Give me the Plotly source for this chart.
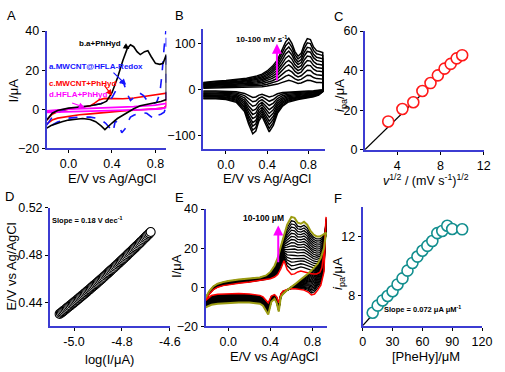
import plotly.graph_objects as go

W, H = 505, 372
BLUE = "#3c3cd2"
FONT = "Liberation Sans, Arial, sans-serif"


def fx(X):
    return X / W


def fy(Y):
    return 1 - Y / H


# ---------------- Panel A: CVs of the four electrodes ----------------
a_blk_up_x = [-0.2, -0.15, -0.1, 0.0, 0.1, 0.2, 0.3, 0.35, 0.4, 0.45, 0.5, 0.54, 0.57, 0.6, 0.63, 0.66, 0.7, 0.73, 0.76, 0.8, 0.84, 0.87, 0.9]
a_blk_up_y = [-5.5, -2, -0.6, 0.6, 1.2, 1.8, 2.8, 4.2, 8.5, 16, 25, 31, 33, 32, 29.5, 28, 29.5, 30, 27, 23.5, 23, 23.5, 28]
a_blk_dn_x = [0.9, 0.85, 0.79, 0.72, 0.66, 0.6, 0.55, 0.5, 0.45, 0.4, 0.37, 0.335, 0.3, 0.25, 0.2, 0.13, 0.05, 0.0, -0.06, -0.11, -0.16, -0.2]
a_blk_dn_y = [5, 4, 3.4, 2.5, 1.8, 0.3, -1.5, -3, -4.7, -7, -8.5, -10.4, -8.5, -6.3, -5.2, -4.7, -5.2, -5.5, -6.3, -7.2, -8.3, -9.6]

a_blu_up_x = [-0.2, -0.15, -0.1, -0.05, 0.0, 0.1, 0.2, 0.3, 0.35, 0.4, 0.44, 0.48, 0.51, 0.54, 0.57, 0.61, 0.65, 0.69, 0.73, 0.77, 0.81, 0.84, 0.86, 0.88, 0.9]
a_blu_up_y = [-8, -4, -1.8, -0.5, 0.3, 1, 1.8, 3, 4, 6, 10, 14, 13, 8, 4.5, 6.5, 8.5, 7, 4, 2.8, 3.5, 8, 18, 32, 42]
a_blu_dn_x = [0.9, 0.88, 0.85, 0.82, 0.79, 0.76, 0.72, 0.68, 0.64, 0.6, 0.57, 0.55, 0.52, 0.49, 0.46, 0.43, 0.41, 0.38, 0.34, 0.3, 0.25, 0.2, 0.1, 0.0, -0.05, -0.1, -0.15, -0.2]
a_blu_dn_y = [2, -1.5, -2.5, -3, -5, -3.5, -2, -1.8, -2.2, -3, -4, -6, -10, -12, -7, -6, -11.5, -9.5, -7, -5.5, -4.5, -4, -4, -4.5, -5.5, -6.5, -8, -9.5]

a_red_up_x = [-0.2, -0.15, -0.1, -0.05, 0.0, 0.1, 0.2, 0.24, 0.28, 0.33, 0.4, 0.5, 0.6, 0.7, 0.8, 0.86, 0.9]
a_red_up_y = [-5.5, -2.5, -1.2, -0.5, 0, 0.8, 1.8, 3.2, 4.8, 5.6, 5.5, 5.4, 5.8, 6.6, 7.5, 8.2, 8.3]
a_red_dn_x = [0.9, 0.88, 0.8, 0.7, 0.6, 0.5, 0.4, 0.3, 0.2, 0.1, 0.0, -0.1, -0.15, -0.2]
a_red_dn_y = [2, 0.8, 0.3, -0.2, -0.5, -0.8, -1.2, -1.8, -2.3, -2.8, -3.5, -4.5, -5.5, -7.5]

a_mag_up_x = [-0.2, -0.1, 0.0, 0.2, 0.4, 0.6, 0.8, 0.9]
a_mag_up_y = [-0.8, -0.2, 0.1, 0.5, 0.9, 1.4, 2.2, 3.0]
a_mag_dn_x = [0.9, 0.85, 0.7, 0.5, 0.3, 0.1, -0.1, -0.2]
a_mag_dn_y = [1.0, 0.3, -0.1, -0.4, -0.7, -1.0, -1.3, -1.6]

a_labels = ["b.a+PhHyd", "a.MWCNT@HFLA-Redox", "c.MWCNT+PhHyd", "d.HFLA+PhHyd"]

# ---------------- Panel B: scan-rate study (largest scan shape + peak heights) ----------------
b_up_x = [-0.22, -0.15, -0.1, 0.0, 0.1, 0.2, 0.3, 0.35, 0.4, 0.45, 0.5, 0.54, 0.58, 0.61, 0.64, 0.67, 0.7, 0.73, 0.76, 0.79, 0.82, 0.85, 0.88, 0.91, 0.94]
b_up_y = [15, 17, 18, 19.5, 21, 24, 29, 33, 40, 50, 64, 82, 103, 111, 100, 82, 72, 78, 97, 110, 108, 92, 84, 82, 80]
b_dn_x = [0.94, 0.9, 0.85, 0.8, 0.7, 0.6, 0.55, 0.5, 0.46, 0.42, 0.38, 0.35, 0.32, 0.29, 0.26, 0.22, 0.18, 0.1, 0.0, -0.1, -0.22]
b_dn_y = [-5, -12, -16, -18, -22, -28, -36, -52, -78, -92, -72, -58, -68, -90, -96, -75, -48, -28, -22, -20, -20]
b_peaks = [20, 31, 42, 53, 63, 73, 83, 92, 102, 111]

# ---------------- Panel C: Randles-Sevcik ----------------
c_x = [3.16, 4.47, 5.48, 6.32, 7.07, 7.75, 8.37, 8.94, 9.49, 10.0]
c_y = [14.3, 20.6, 24.0, 29.7, 33.7, 37.6, 41.0, 43.4, 46.2, 47.8]
c_fit_x = [1.0, 10.0]
c_fit_y = [0.0, 48.0]

# ---------------- Panel D: Tafel ----------------
d_x = [-5.060, -5.055, -5.050, -5.045, -5.040, -5.035, -5.030, -5.025, -5.020, -5.015,
       -5.010, -5.005, -5.000, -4.995, -4.990, -4.985, -4.980, -4.975, -4.970, -4.965,
       -4.960, -4.955, -4.950, -4.945, -4.940, -4.935, -4.930, -4.925, -4.920, -4.915,
       -4.910, -4.905, -4.900, -4.895, -4.890, -4.885, -4.880, -4.875, -4.870, -4.865,
       -4.860, -4.855, -4.850, -4.845, -4.840, -4.835, -4.830, -4.825, -4.820, -4.815,
       -4.810, -4.805, -4.800, -4.795, -4.790, -4.785, -4.780, -4.775, -4.770, -4.765,
       -4.760, -4.755, -4.750, -4.745, -4.740, -4.735, -4.730, -4.725, -4.720, -4.715,
       -4.710, -4.705, -4.700, -4.695, -4.690, -4.685, -4.680]
d_y = [0.4300, 0.4308, 0.4316, 0.4324, 0.4332, 0.4340, 0.4349, 0.4357, 0.4365, 0.4373,
       0.4382, 0.4390, 0.4398, 0.4406, 0.4415, 0.4423, 0.4432, 0.4440, 0.4449, 0.4457,
       0.4466, 0.4474, 0.4483, 0.4492, 0.4501, 0.4509, 0.4518, 0.4527, 0.4536, 0.4544,
       0.4553, 0.4562, 0.4571, 0.4580, 0.4589, 0.4598, 0.4607, 0.4616, 0.4626, 0.4635,
       0.4644, 0.4653, 0.4663, 0.4672, 0.4681, 0.4690, 0.4700, 0.4709, 0.4719, 0.4728,
       0.4738, 0.4747, 0.4757, 0.4766, 0.4776, 0.4785, 0.4795, 0.4805, 0.4815, 0.4824,
       0.4834, 0.4844, 0.4854, 0.4863, 0.4873, 0.4883, 0.4893, 0.4903, 0.4913, 0.4923,
       0.4934, 0.4944, 0.4954, 0.4964, 0.4974, 0.4984, 0.4995]

# ---------------- Panel E: concentration study ----------------
e_up_x = [-0.22, -0.18, -0.14, -0.1, -0.05, 0.0, 0.1, 0.2, 0.3, 0.36, 0.4, 0.44, 0.47, 0.5, 0.53, 0.56, 0.6, 0.63, 0.66, 0.69, 0.72, 0.75, 0.78, 0.81, 0.84, 0.87, 0.89, 0.91, 0.93]
e_red_up_y = [-7, -3.5, -1.2, 0, 0.8, 1.3, 2.0, 2.6, 3.3, 3.8, 4.3, 5.2, 6.5, 9.5, 13.5, 9, 6.5, 6.8, 7.8, 8.3, 7.8, 7.2, 7.0, 6.8, 6.8, 7.5, 10, 18, 36]
e_olv_up_y = [-6, -2, 0.5, 1.8, 2.6, 3.2, 3.9, 4.4, 5.0, 6.0, 7.8, 11, 15, 21, 27, 32, 36, 35.5, 33, 32.5, 33.5, 32, 29, 27, 26, 26, 26.5, 27.5, 28]
e_dn_x = [0.93, 0.91, 0.88, 0.85, 0.82, 0.79, 0.76, 0.72, 0.68, 0.64, 0.6, 0.56, 0.52, 0.5, 0.48, 0.46, 0.44, 0.41, 0.38, 0.36, 0.33, 0.3, 0.25, 0.2, 0.1, 0.0, -0.1, -0.16, -0.22]
e_red_dn_y = [36, 8, 1, -1.5, -3.5, -4, -2.5, -1.5, -1, -0.8, -0.8, -1.2, -2, -3.5, -8, -5, -3.8, -4.5, -8, -7, -5, -4.2, -3.8, -3.5, -3.3, -3.3, -3.6, -4.3, -7]
e_olv_dn_y = [28, 20, 15, 12, 10, 8.5, 7, 5, 3.5, 1.8, 0.3, -1.5, -3.5, -5, -12.5, -8, -6, -7.5, -14, -12, -9.5, -8.5, -8, -7.8, -7.8, -8, -8.5, -9, -10.5]
e_peaks = [6.5, 9.0, 11.0, 12.8, 14.5, 16.2, 18.0, 19.6, 21.2, 22.8, 24.4, 26.0, 27.6, 29.2, 30.8, 32.4, 34.0, 36.0]

# ---------------- Panel F: calibration ----------------
f_x = [10, 15, 20, 25, 30, 35, 40, 45, 50, 55, 60, 65, 70, 75, 80, 85, 90, 100]
f_y = [6.87, 7.35, 7.7, 8.0, 8.32, 8.78, 9.19, 9.71, 10.23, 10.66, 11.05, 11.38, 11.71, 12.24, 12.39, 12.74, 12.52, 12.5]
f_fit_x = [0, 8]
f_fit_y = [6.0, 6.6]

# =====================================================================
fig = go.Figure()


def loop(ux, uy, dx, dy):
    return list(ux) + list(dx), list(uy) + list(dy)


# Panel A
for (ux, uy, dx, dy, col, dash, wd) in [
    (a_red_up_x, a_red_up_y, a_red_dn_x, a_red_dn_y, "#ff0000", "solid", 1.6),
    (a_blu_up_x, a_blu_up_y, a_blu_dn_x, a_blu_dn_y, "#1515ff", "dash", 1.6),
    (a_mag_up_x, a_mag_up_y, a_mag_dn_x, a_mag_dn_y, "#ff00ff", "solid", 1.8),
    (a_blk_up_x, a_blk_up_y, a_blk_dn_x, a_blk_dn_y, "#000000", "solid", 1.6),
]:
    X, Y = loop(ux, uy, dx, dy)
    fig.add_trace(go.Scatter(x=X, y=Y, mode="lines", line=dict(color=col, width=wd, dash=dash),
                             xaxis="x", yaxis="y", showlegend=False))

# Panel B
bmax = max(b_peaks)
for p in b_peaks:
    s = p / bmax
    X, Y = loop(b_up_x, [v * s for v in b_up_y], b_dn_x, [v * s for v in b_dn_y])
    fig.add_trace(go.Scatter(x=X, y=Y, mode="lines", line=dict(color="black", width=1.5),
                             xaxis="x2", yaxis="y2", showlegend=False))

# Panel C
fig.add_trace(go.Scatter(x=c_fit_x, y=c_fit_y, mode="lines", line=dict(color="black", width=1.2),
                         xaxis="x3", yaxis="y3", showlegend=False))
fig.add_trace(go.Scatter(x=c_x, y=c_y, mode="markers",
                         marker=dict(symbol="circle", size=11, color="white", line=dict(color="#ff1a1a", width=1.6)),
                         xaxis="x3", yaxis="y3", showlegend=False))

# Panel D
fig.add_trace(go.Scatter(x=d_x, y=d_y, mode="markers",
                         marker=dict(symbol="circle", size=9, color="white", line=dict(color="black", width=1.1)),
                         xaxis="x4", yaxis="y4", showlegend=False))

# Panel E
r0, r1 = e_peaks[0], e_peaks[-1]
for p in e_peaks[1:-1]:
    f = (p - r0) / (r1 - r0)
    uy = [a + f * (b - a) for a, b in zip(e_red_up_y, e_olv_up_y)]
    dy = [a + f * (b - a) for a, b in zip(e_red_dn_y, e_olv_dn_y)]
    X, Y = loop(e_up_x, uy, e_dn_x, dy)
    fig.add_trace(go.Scatter(x=X, y=Y, mode="lines", line=dict(color="black", width=1.3),
                             xaxis="x5", yaxis="y5", showlegend=False))
X, Y = loop(e_up_x, e_red_up_y, e_dn_x, e_red_dn_y)
fig.add_trace(go.Scatter(x=X, y=Y, mode="lines", line=dict(color="#ff0000", width=1.5),
                         xaxis="x5", yaxis="y5", showlegend=False))
X, Y = loop(e_up_x, e_olv_up_y, e_dn_x, e_olv_dn_y)
fig.add_trace(go.Scatter(x=X, y=Y, mode="lines", line=dict(color="#9c9c12", width=2),
                         xaxis="x5", yaxis="y5", showlegend=False))

# Panel F
fig.add_trace(go.Scatter(x=f_fit_x, y=f_fit_y, mode="lines", line=dict(color="black", width=1.2),
                         xaxis="x6", yaxis="y6", showlegend=False))
fig.add_trace(go.Scatter(x=f_x, y=f_y, mode="markers",
                         marker=dict(symbol="circle", size=11, color="white", line=dict(color="#138f8f", width=1.6)),
                         xaxis="x6", yaxis="y6", showlegend=False))

TICK = 12.5


def ax(dom, rng, tv, tt=None, anchor=None):
    d = dict(domain=dom, range=rng, showline=True, linecolor=BLUE, linewidth=2,
             ticks="outside", ticklen=3, tickwidth=1, tickcolor="black",
             showgrid=False, zeroline=False, tickvals=tv, anchor=anchor,
             tickfont=dict(size=TICK, color="black", family=FONT))
    if tt is not None:
        d["ticktext"] = tt
    return d


cv_xt = [0.0, 0.4, 0.8]
cv_xl = ["0.0", "0.4", "0.8"]

layout = dict(
    width=W, height=H, margin=dict(l=0, r=0, t=0, b=0),
    paper_bgcolor="white", plot_bgcolor="white",
    font=dict(family=FONT, color="black"),
    xaxis=ax([fx(45), fx(168)], [-0.2, 0.9], cv_xt, cv_xl, "y"),
    yaxis=ax([fy(147), fy(25)], [-20, 40], [-20, 0, 20, 40], None, "x"),
    xaxis2=ax([fx(205.7), fx(331)], [-0.223, 0.96], cv_xt, cv_xl, "y2"),
    yaxis2=ax([fy(148), fy(23.3)], [-130, 130], [-100, 0, 100], None, "x2"),
    xaxis3=ax([fx(372.2), fx(494.5)], [1, 12], [4, 8, 12], None, "y3"),
    yaxis3=ax([fy(148.3), fy(25)], [0, 60], [0, 20, 40, 60], None, "x3"),
    xaxis4=ax([fx(48.4), fx(171.6)], [-5.1, -4.6], [-5.0, -4.8, -4.6], ["-5.0", "-4.8", "-4.6"], "y4"),
    yaxis4=ax([fy(331.2), fy(208.7)], [0.42, 0.52], [0.44, 0.48, 0.52], ["0.44", "0.48", "0.52"], "x4"),
    xaxis5=ax([fx(208.3), fx(333.4)], [-0.216, 0.94], cv_xt, cv_xl, "y5"),
    yaxis5=ax([fy(331.7), fy(210)], [-20, 40], [-20, 0, 20, 40], None, "x5"),
    xaxis6=ax([fx(370), fx(492.7)], [0, 120], [0, 30, 60, 90, 120], None, "y6"),
    yaxis6=ax([fy(331.1), fy(207.9)], [6, 14], [8, 12], None, "x6"),
)

ann = []


def txt(X, Y, s, size=13, angle=0, color="black", xanchor="center", bold=False):
    ann.append(dict(x=fx(X), y=fy(Y), xref="paper", yref="paper", text=(f"<b>{s}</b>" if bold else s),
                    showarrow=False, textangle=angle, xanchor=xanchor, yanchor="middle",
                    font=dict(size=size, color=color, family=FONT)))


# panel letters
for X, Y, s in [(9, 9, "A"), (182, 9, "B"), (345, 10, "C"), (7, 197, "D"), (182, 198, "E"), (345, 199, "F")]:
    txt(X, Y, s, size=13)

# axis titles
EV = "E/V vs Ag/AgCl"
txt(11, 87, "I/μA", angle=-90)
txt(112, 178.5, EV)
txt(272, 178.5, EV)
txt(347, 92, "<i>i</i><sub>pa</sub>/μA", angle=-90)
txt(435, 180, "<i>v</i><sup>1/2</sup> / (mV s<sup>-1</sup>)<sup>1/2</sup>", size=12.5)
txt(9, 270, EV, angle=-90)
txt(110, 366, "log(I/μA)")
txt(179, 269, "I/μA", angle=-90)
txt(279, 363, EV)
txt(345, 277, "<i>i</i><sub>pa</sub>/μA", angle=-90)
txt(435, 363, "[PheHy]/μM")

# panel A labels
txt(100, 38, a_labels[0], size=8, color="black", bold=True)
txt(45, 62, a_labels[1], size=8, color="#1515ff", xanchor="left", bold=True)
txt(45, 79, a_labels[2], size=8, color="#ff0000", xanchor="left", bold=True)
txt(45, 91, a_labels[3], size=8, color="#ff00ff", xanchor="left", bold=True)

# other in-plot texts
txt(266, 33, "10-100 mV s<sup>-1</sup>", size=8, bold=True)
txt(268, 219, "10-100 μM", size=8.5, bold=True)
txt(86, 221, "Slope = 0.18 V dec<sup>-1</sup>", size=7.5, bold=True)
txt(431, 314, "Slope = 0.072 μA μM<sup>-1</sup>", size=7.5, bold=True)


def arrow(xa, ya, x0, y0, x1, y1, color, width=1.2, head=2):
    ann.append(dict(x=x1, y=y1, ax=x0, ay=y0, xref=xa, yref=ya, axref=xa, ayref=ya,
                    text="", showarrow=True, arrowhead=head, arrowsize=1, arrowwidth=width,
                    arrowcolor=color))


arrow("x", "y", 0.50, 33.0, 0.56, 30.8, "black")
arrow("x", "y", 0.40, 19.5, 0.53, 12.5, "#1515ff")
arrow("x", "y", 0.32, 13.0, 0.40, 7.0, "#ff0000")
arrow("x", "y", 0.02, 3.5, 0.15, 0.9, "#ff00ff")
arrow("x2", "y2", 0.495, 16, 0.495, 99, "#ff00ff", width=2)
arrow("x5", "y5", 0.475, 12, 0.475, 31.6, "#ff00ff", width=2)

layout["annotations"] = ann
fig.update_layout(**layout)
fig.write_html("out.html")
